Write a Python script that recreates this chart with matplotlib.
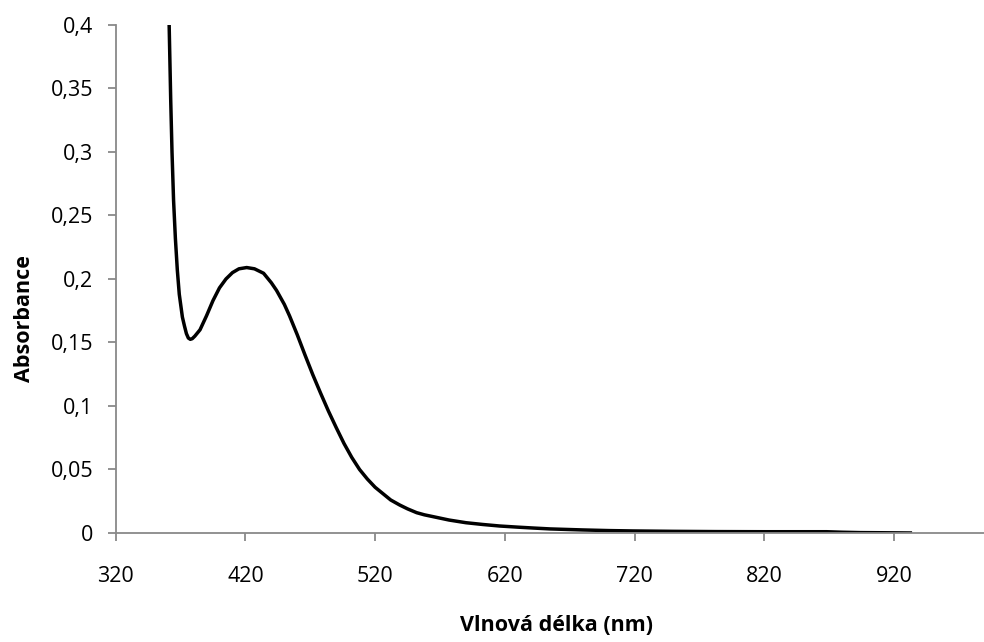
import numpy as np
import matplotlib
matplotlib.use("Agg")
import matplotlib.pyplot as plt

# spectrum (wavelength in nm, absorbance)
wavelength = [360, 361.2, 362.4, 363.4, 364.6, 366, 367.5, 369, 371.4, 373, 374.5, 376, 377.5,
              379, 381, 385, 390, 395, 400, 405, 410, 415, 421, 427, 434,
              440, 444, 450, 454, 460, 466, 472, 478, 484, 490,
              496, 502, 508, 514, 520, 526, 532, 539, 545, 552,
              558, 565, 577, 590, 603, 616, 630, 642, 655, 680,
              700, 719, 750, 783, 820, 850, 868, 880, 894, 910, 934]
absorbance = [0.46, 0.40, 0.341, 0.300, 0.262, 0.232, 0.207, 0.188, 0.170, 0.163, 0.157, 0.1535, 0.1525,
              0.153, 0.155, 0.160, 0.171, 0.183, 0.193, 0.200, 0.205, 0.208, 0.209, 0.208, 0.2045,
              0.197, 0.191, 0.180, 0.171, 0.156, 0.140, 0.1245, 0.110, 0.096, 0.083,
              0.0705, 0.0595, 0.050, 0.0425, 0.036, 0.031, 0.026, 0.022, 0.019, 0.016,
              0.0143, 0.0128, 0.0102, 0.0081, 0.0067, 0.0055, 0.0046, 0.0039, 0.0032, 0.0024,
              0.0019, 0.0016, 0.0013, 0.0011, 0.001, 0.001, 0.001, 0.0006, 0.0003, 0.0002, 0.0]

xticks = [320, 420, 520, 620, 720, 820, 920]
yticks = [0, 0.05, 0.1, 0.15, 0.2, 0.25, 0.3, 0.35, 0.4]
ytick_labels = ['0', '0,05', '0,1', '0,15', '0,2', '0,25', '0,3', '0,35', '0,4']

plt.rcParams['font.family'] = ['Open Sans', 'DejaVu Sans']

fig = plt.figure(figsize=(9.84, 6.42), dpi=100)
ax = fig.add_axes([0.1176, 0.1698, 0.8963, 0.7913])

ax.plot(wavelength, absorbance, color='black', linewidth=2.5,
        solid_joinstyle='round', solid_capstyle='butt')

ax.set_xlim(320, 1000)
ax.set_ylim(0, 0.4)
ax.set_xticks(xticks)
ax.set_xticklabels([str(t) for t in xticks])
ax.set_yticks(yticks)
ax.set_yticklabels(ytick_labels)

for side in ['top', 'right']:
    ax.spines[side].set_visible(False)
for side in ['left', 'bottom']:
    ax.spines[side].set_color('#898989')
    ax.spines[side].set_linewidth(1.3)

ax.tick_params(axis='both', direction='out', length=6, width=1.3, color='#898989',
               labelsize=15.5, labelcolor='black')
ax.tick_params(axis='y', pad=10)
ax.tick_params(axis='x', pad=18)

ax.set_xlabel('Vlnová délka (nm)', fontsize=15.5, fontweight='bold')
ax.set_ylabel('Absorbance', fontsize=15.5, fontweight='bold')
ax.xaxis.set_label_coords(0.5, -0.162)
ax.yaxis.set_label_coords(-0.091, 0.423)

fig.savefig('out.png', dpi=100)
plt.close(fig)
